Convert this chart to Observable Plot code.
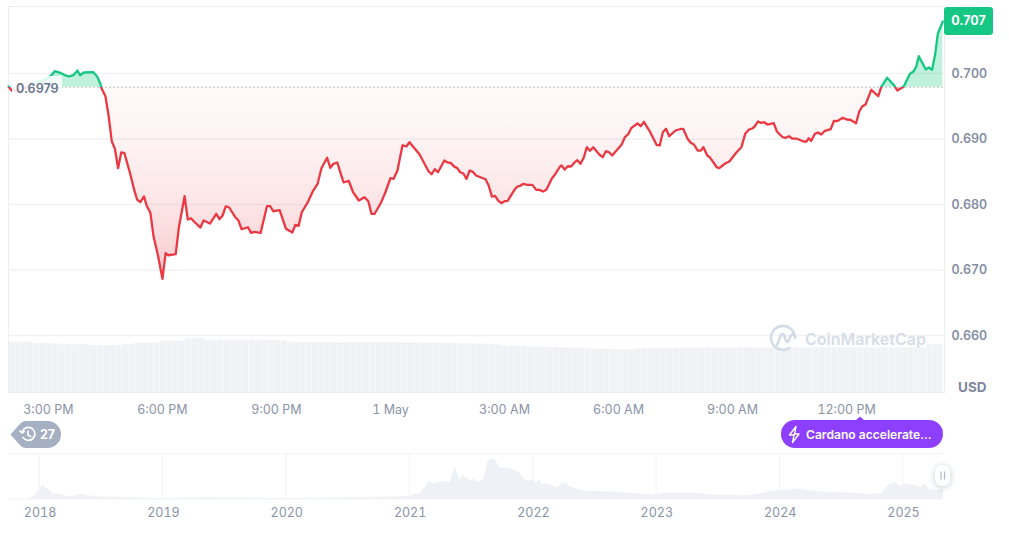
<!DOCTYPE html>
<html><head><meta charset="utf-8">
<script src="https://cdn.jsdelivr.net/npm/d3@7"></script>
<script src="https://cdn.jsdelivr.net/npm/@observablehq/plot@0.6"></script>
<style>
html,body{margin:0;padding:0;background:#fff;}
#wrap{position:relative;width:1009px;height:547px;overflow:hidden;font-family:Inter,sans-serif;}
#wrap>svg{position:absolute;left:0;top:0;}
.lab{position:absolute;white-space:nowrap;}
</style></head><body><div id="wrap"></div>
<script>
// minutes after 3:00 PM, 30 April
const minutes=[-63,-58,-44,-20,-5,4,10,19,27,33,40,46,50,56,71,77,82,84,90,95,100,105,110,115,120,129,136,140,145,151,155,161,166,173,180,185,189,201,206,215,220,225,231,240,245,255,265,270,275,280,285,295,300,305,315,320,325,335,345,350,355,365,375,385,390,395,400,410,418,425,431,440,445,450,456,461,466,474,481,490,499,505,510,515,525,532,540,545,551,559,565,570,586,600,605,610,615,625,630,635,641,645,650,655,660,665,670,675,690,695,700,705,710,715,720,725,735,740,745,750,756,764,770,775,781,786,795,800,808,810,815,820,825,831,835,840,845,850,855,860,870,875,880,885,890,905,910,915,920,930,935,940,950,960,965,970,975,980,990,998,1002,1009,1014,1019,1025,1030,1034,1040,1044,1055,1059,1069,1075,1086,1094,1100,1106,1111,1115,1120,1125,1130,1135,1145,1150,1159,1164,1169,1174,1181,1192,1197,1200,1204,1210,1215,1220,1225,1235,1240,1245,1254,1260,1266,1275,1280,1285,1290,1299,1310,1315,1324,1335,1340,1350,1360,1366,1370,1374,1385,1390,1395,1400,1404,1412];
const prices=[.69801,.6974,.6974,.69863,.69905,.69965,.70035,.7001,.6997,.69954,.6998,.70046,.69974,.70015,.7002,.69954,.69843,.6977,.69653,.69359,.68966,.6885,.68554,.68794,.68783,.68473,.68203,.68076,.68035,.68122,.67984,.67873,.67511,.67221,.66865,.67256,.67225,.67241,.67653,.68126,.67771,.67791,.67729,.67648,.67755,.67709,.67858,.67775,.67832,.6797,.67958,.67806,.67755,.67622,.67653,.67567,.67583,.67567,.67974,.67974,.67897,.67913,.67629,.67572,.6769,.67674,.67882,.68045,.68213,.68316,.68554,.68713,.6856,.68621,.68641,.68488,.68336,.68362,.68187,.68061,.68111,.6805,.67858,.67858,.68026,.68187,.68401,.68392,.68519,.68905,.68885,.68951,.68763,.68508,.68462,.68539,.68493,.68671,.68641,.68636,.68575,.6856,.68493,.68473,.68392,.68519,.68499,.68442,.68386,.6829,.68122,.68133,.68061,.6802,.6805,.68056,.68213,.68274,.68285,.68316,.683,.683,.68224,.68224,.68198,.68224,.68401,.68462,.68584,.68595,.68534,.68584,.6858,.68646,.68676,.68621,.68713,.68875,.6882,.68875,.68759,.68722,.68814,.68798,.68748,.68916,.69027,.69069,.69165,.69237,.69195,.69262,.69104,.68911,.68901,.69104,.69156,.69043,.6913,.69153,.69156,.69003,.68942,.68916,.68824,.68824,.68875,.68748,.68722,.68569,.68554,.6863,.68656,.68794,.68875,.69079,.69145,.6916,.69191,.69267,.69247,.69256,.69221,.69241,.69114,.69027,.69018,.69043,.69007,.69007,.68962,.68962,.69012,.68972,.69079,.69099,.69069,.69119,.6915,.69278,.69272,.69324,.69298,.69293,.69241,.6942,.69501,.69527,.69751,.69653,.69801,.69934,.69821,.6974,.69797,.69995,.70035,.70107,.70264,.70061,.70092,.70056,.70301,.70606,.70794];
const basePrice=0.6979;
const priceTicks=[0.66,0.67,0.68,0.69,0.70];
const timeTicks=[0,180,360,540,720,900,1080,1260];
const timeLabels=["3:00 PM","6:00 PM","9:00 PM","1 May","3:00 AM","6:00 AM","9:00 AM","12:00 PM"];
// volume per 10 minutes, millions USD
const volumes=[660,660,658,661,640,642,640,638,628,627,626,628,627,616,614,613,615,614,630,631,645,647,648,650,672,673,675,674,704,706,705,688,687,686,686,685,686,684,686,685,684,683,684,682,660,658,656,657,655,656,655,656,654,655,656,655,654,655,653,654,655,654,653,654,652,650,648,646,644,642,641,640,639,638,636,634,630,625,606,605,603,602,600,598,596,592,590,589,588,586,584,580,575,570,566,564,562,561,562,572,578,579,578,577,578,579,585,586,584,585,587,586,585,584,586,585,587,585,584,586,585,586,584,587,585,586,585,584,586,587,585,586,584,585,586,587,585,584,586,585,586,584,585,586,585,628,630,632];
// all-time history
const histYears=[2017.9,2017.96,2017.99,2018.03,2018.05,2018.09,2018.11,2018.17,2018.23,2018.28,2018.34,2018.42,2018.5,2018.63,2018.9,2019.01,2019.31,2019.66,2019.98,2020.26,2020.6,2020.87,2021,2021.04,2021.09,2021.16,2021.2,2021.24,2021.29,2021.33,2021.37,2021.41,2021.43,2021.5,2021.52,2021.55,2021.6,2021.64,2021.69,2021.73,2021.82,2021.88,2021.94,2021.97,2022,2022.03,2022.05,2022.08,2022.11,2022.2,2022.23,2022.27,2022.31,2022.41,2022.63,2022.74,2022.98,2023.09,2023.3,2023.47,2023.74,2023.87,2023.95,2024.17,2024.31,2024.58,2024.71,2024.83,2024.88,2024.94,2024.98,2025.02,2025.12,2025.15,2025.18,2025.21,2025.28,2025.33];
const histPrices=[0,.17,.61,1.01,.79,.61,.39,.35,.17,.2,.35,.2,.15,.13,.05,.04,.09,.07,.03,.05,.12,.14,.18,.37,.37,1.3,1.11,1.23,1.31,1.18,2.34,1.35,1.72,1.35,1.48,1.23,1.41,2.83,2.98,2.32,2.22,2.05,1.41,1.31,1.48,1.16,1.41,1.06,1.16,.81,1.16,1.16,.87,.57,.54,.44,.3,.42,.44,.27,.24,.42,.59,.74,.52,.44,.35,.37,.98,1.24,.94,1.11,.94,.87,1.11,.74,.61,.74];
const histTicks=[2018,2019,2020,2021,2022,2023,2024,2025];

const grey="#8a93a7", gridC="#f1f2f5";
const font="Inter, sans-serif";
const svgStyle={background:"transparent",fontFamily:font,overflow:"visible"};
const wrap=document.getElementById("wrap");
const series=minutes.map((m,i)=>({m,p:prices[i]}));
const xOpts={domain:[-63,1413],range:[8,943]};

// volume layer
const vol=volumes.map((v,i)=>({x1:-63+i*10,x2:-63+(i+1)*10,v}));
wrap.append(Plot.plot({width:1009,height:547,style:svgStyle,x:{...xOpts,axis:null,clamp:true},
  y:{domain:[0,1000],range:[392.5,315.5],axis:null},
  marks:[Plot.rectY(vol,{x1:"x1",x2:"x2",y:"v",fill:"#f0f2f6",insetRight:0.3})]}));

// price layer
const main=Plot.plot({width:1009,height:547,style:svgStyle,marginLeft:8,marginRight:65,marginTop:6,marginBottom:155,
  x:{...xOpts},
  y:{domain:[0.70,0.66],range:[73,335]},
  marks:[
    Plot.frame({stroke:"#eceef2",strokeWidth:1}),
    Plot.gridY(priceTicks,{stroke:gridC,strokeOpacity:1,strokeWidth:1.4}),
    Plot.areaY(series,{x:"m",y1:()=>basePrice,y2:"p",fill:"url(#areaGrad)"}),
    Plot.ruleY([basePrice],{x1:-10,x2:1413,stroke:"#8d8f96",strokeDasharray:"1 3",strokeWidth:1}),
    Plot.line(series,{x:"m",y:"p",stroke:"url(#lineGrad)",strokeWidth:2.3,strokeLinejoin:"round"}),
    Plot.axisY(priceTicks,{anchor:"right",tickSize:0,tickPadding:7,tickFormat:d=>d.toFixed(3),label:null,
      fill:"#858ea3",fontSize:12.5,fontWeight:600,textAnchor:"start"}),
    Plot.axisX(timeTicks,{anchor:"bottom",tickSize:0,tickPadding:13,label:null,fill:grey,fontSize:12.5,
      tickFormat:d=>timeLabels[timeTicks.indexOf(d)]})
  ]});
const yScale=main.scale("y").apply;
const yp=yScale(basePrice), yb=yScale(0.666);
const defs=d3.select(main).append("defs");
const lg=defs.append("linearGradient").attr("id","lineGrad").attr("gradientUnits","userSpaceOnUse")
  .attr("x1",0).attr("x2",0).attr("y1",0).attr("y2",547);
[[0,"#16c784"],[yp/547,"#16c784"],[yp/547,"#ea3943"],[1,"#ea3943"]].forEach(([o,c])=>lg.append("stop").attr("offset",o).attr("stop-color",c));
const ag=defs.append("linearGradient").attr("id","areaGrad").attr("gradientUnits","userSpaceOnUse")
  .attr("x1",0).attr("x2",0).attr("y1",0).attr("y2",yb);
[[0,"#16c784",.27],[yp/yb,"#16c784",.27],[yp/yb,"#ea3943",.03],[yScale(0.69)/yb,"#ea3943",.06],[yScale(0.68)/yb,"#ea3943",.13],[1,"#ea3943",.29]].forEach(([o,c,a])=>ag.append("stop").attr("offset",o).attr("stop-color",c).attr("stop-opacity",a));
wrap.append(main);

// all-time layer
const hist=histYears.map((t,i)=>({t,p:histPrices[i]}));
wrap.append(Plot.plot({width:1009,height:547,style:svgStyle,marginLeft:8,marginRight:66,marginTop:453,marginBottom:48.5,
  x:{domain:[2017.75,2025.33],range:[8,943]},
  y:{domain:[0,3],range:[498.5,458],axis:null},
  marks:[
    Plot.gridX(histTicks,{stroke:"#f1f2f5",strokeOpacity:1}),
    Plot.ruleY([3.35],{x1:2017.75,x2:2025.33,stroke:"#f1f2f5"}),
    Plot.areaY(hist,{x:"t",y:"p",fill:"#eef1f5"}),
    Plot.ruleY([0],{x1:2017.75,x2:2025.33,stroke:"#eef1f5"}),
    Plot.axisX(histTicks,{anchor:"bottom",tickSize:0,tickPadding:9,dx:0.7,label:null,fill:grey,fontSize:12.5,tickFormat:d=>String(d)})
  ]}));

// furniture
const over=document.createElement("div");
over.innerHTML=`
<div class="lab" style="left:12px;top:76px;width:50px;height:21px;background:rgba(255,255,255,.86);"></div>
<div class="lab" style="left:16px;top:80px;font-size:12.6px;font-weight:600;color:#6b7590;line-height:17px;">0.6979</div>
<div class="lab" style="left:944px;top:7px;width:49px;height:28px;background:#16c784;border-radius:3px;color:#fff;font-size:12.5px;font-weight:700;line-height:28px;text-align:center;">0.707</div>
<div class="lab" style="left:958px;top:379px;font-size:13.5px;font-weight:700;color:#7e879b;line-height:17px;">USD</div>
<div class="lab" style="left:805px;top:329px;font-size:16px;font-weight:600;color:#d6dde8;line-height:21px;">CoinMarketCap</div>
<svg class="lab" style="left:0;top:0;overflow:visible;" width="1009" height="547" fill="none">
  <g stroke="#d3dce8" stroke-width="2.6" stroke-linecap="round" stroke-linejoin="round">
    <path d="M795 338a12 12 0 1 0 -5.500 10"/>
    <path d="M777 345l4 -10q1.500 -2 3 0l2 6q1 2 2.500 0l2 -5q1.500 -2 3 -1"/>
  </g>
  <path d="M10.500 434.500L19 425Q22 421 26 421H47.500a13.500 13.500 0 0 1 0 27H26Q22 448 19 444Z" fill="#a6b0c3"/>
  <g stroke="#fff" stroke-width="1.700" stroke-linecap="round" stroke-linejoin="round">
    <path d="M22 432.500a6.500 6.500 0 1 1 1 5"/><path d="M20 431l2 2 2.200 -1.500"/><path d="M28 431v4l2.500 1.500"/>
  </g>
  <text x="40" y="439" fill="#fff" font-size="12.500" font-weight="700">27</text>
  <rect x="781" y="420" width="162" height="28" rx="14" fill="#8e3ffe"/>
  <path d="M856 420l4 -3.500l4 3.500Z" fill="#8e3ffe"/>
  <path d="M796 426.500l-6.500 8.500h4.500l-1.500 7.500 6.500 -8.500h-4.500z" stroke="#fff" stroke-width="1.400" stroke-linejoin="round"/>
  <text x="806" y="438.500" fill="#fff" font-size="12.100" font-weight="600">Cardano accelerate...</text>
  <rect x="935" y="465" width="15" height="21" rx="6.500" fill="#fff" style="filter:drop-shadow(0 1px 3px rgba(88,102,126,.35))"/>
  <path d="M941 471.500v8M944.500 471.500v8" stroke="#b0b9cc" stroke-width="1.200"/>
</svg>`;
while(over.firstChild) wrap.append(over.firstChild);
</script></body></html>
